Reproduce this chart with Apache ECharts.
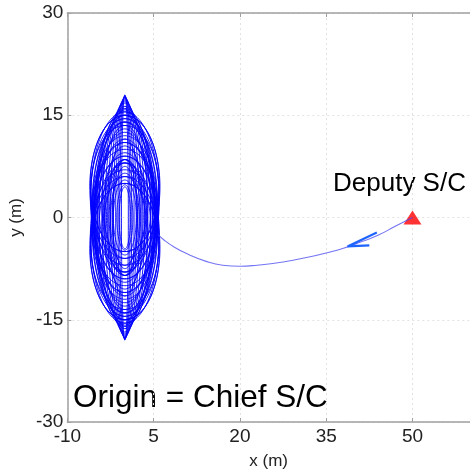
<!DOCTYPE html>
<html>
<head>
<meta charset="utf-8">
<script src="https://cdn.jsdelivr.net/npm/echarts@6/dist/echarts.min.js"></script>
<style>
  html, body { margin: 0; padding: 0; background: #fff; }
  #chart { width: 470px; height: 475px; }
</style>
</head>
<body>
<div id="chart"></div>
<script>
// axis ticks
var xTicks = [-10, 5, 20, 35, 50];
var yTicks = [-30, -15, 0, 15, 30];

// relative orbit loops around the chief (m): half-width in x, half-height in y, centre in y
var loopA = [6.1, 6.1, 6.0, 6.0, 5.9, 5.9, 5.8, 5.8, 5.6, 5.6, 5.4, 5.0, 5.2, 5.2,
             6.0, 6.0, 5.9, 5.9, 5.7, 5.7, 5.5, 5.5, 5.3, 5.3, 4.8, 4.8,
             4.5, 4.5, 3.8, 3.8, 3.2, 2.5, 2.0, 1.4, 1.0,
             4.0, 4.0, 3.5, 3.5, 2.8, 2.8, 2.2, 2.2,
             4.5, 4.0, 3.5, 3.0, 2.5, 2.0, 1.6, 1.2, 0.9, 0.6];
var loopB = [10.5, 10.5, 11.75, 11.75, 9.25, 9.25, 11.5, 11.5, 8.5, 8.5, 15.5, 16.0, 13.25, 13.25,
             10.0, 10.0, 12.25, 12.25, 12.75, 12.75, 11.0, 11.0, 14.5, 14.5, 14.0, 14.0,
             9.75, 9.75, 7.75, 7.75, 8.0, 6.75, 5.5, 4.8, 4.55,
             11.0, 11.0, 9.5, 9.5, 10.0, 10.0, 8.0, 8.0,
             15.8, 16.3, 16.8, 17.1, 17.4, 17.6, 17.7, 17.8, 17.9, 18.0];
var loopC = [4.5, -4.5, 2.75, -2.75, 4.25, -4.25, 0.5, -0.5, 1.5, -1.5, 0, 0, 0.75, -0.75,
             5.0, -5.0, 3.25, -3.25, 1.75, -1.75, 3.0, -3.0, 0.5, -0.5, 1.0, -1.0,
             1.75, -1.75, 1.75, -1.75, 0, -0.25, 0, 0, -0.05,
             2.5, -2.5, 1.0, -1.0, 1.5, -1.5, 0.5, -0.5,
             0, 0, 0, 0, 0, 0, 0, 0, 0, 0];

// approach path of the deputy
var pathX = [50, 47, 44, 41, 38, 35, 32, 29, 26, 23, 20, 17, 14, 11, 8.5, 6.8, 5.8];
var pathY = [0, -1.3, -2.6, -3.6, -4.5, -5.2, -5.8, -6.3, -6.7, -7.0, -7.15, -7.0, -6.4, -5.4, -4.3, -3.3, -2.5];

// arrow head on the path
var arrowX = [43.8, 38.7, 42.5];
var arrowY = [-2.2, -4.25, -4.1];

var deputy = [50, 0];

var chart = echarts.init(document.getElementById('chart'));

var gridLine = { show: true, lineStyle: { color: '#e2e2e2', type: [2, 3], width: 1 } };
var axisLine = { show: true, onZero: false, lineStyle: { color: '#a0a0a0', width: 1.5 } };
var tickStyle = { show: true, inside: true, length: 4, lineStyle: { color: '#a0a0a0' } };
var labelFont = { fontFamily: 'Liberation Sans', fontSize: 19, color: '#222' };

var option = {
  animation: false,
  grid: { left: 66, top: 13, right: -4, bottom: 52 },
  xAxis: [{
    type: 'value', min: -10, max: 60, interval: 15,
    name: 'x (m)', nameLocation: 'middle', nameGap: 31,
    nameTextStyle: { fontFamily: 'Liberation Sans', fontSize: 17, color: '#222' },
    axisLine: axisLine, axisTick: tickStyle, splitLine: gridLine,
    axisLabel: Object.assign({ margin: 5, showMaxLabel: false }, labelFont)
  }, {
    type: 'value', min: -10, max: 60, interval: 15, position: 'top',
    axisLine: axisLine, axisTick: tickStyle, splitLine: { show: false },
    axisLabel: { show: false }
  }],
  yAxis: {
    type: 'value', min: -30, max: 30, interval: 15,
    name: 'y (m)', nameLocation: 'middle', nameGap: 31, nameRotate: 90,
    nameTextStyle: { fontFamily: 'Liberation Sans', fontSize: 17, color: '#222' },
    axisLine: axisLine, axisTick: tickStyle, splitLine: gridLine,
    axisLabel: Object.assign({ margin: 4 }, labelFont)
  },
  series: [{
    type: 'custom',
    data: loopA.map(function (a, i) { return [a, loopB[i], loopC[i]]; }),
    encode: { x: 0, y: 1 },
    silent: true,
    renderItem: function (params, api) {
      var a = api.value(0), b = api.value(1), c = api.value(2);
      var pts = [];
      for (var k = 0; k <= 120; k++) {
        var t = k / 120 * Math.PI * 2;
        pts.push(api.coord([a * Math.cos(t), c + b * Math.sin(t)]));
      }
      return { type: 'polyline', shape: { points: pts }, style: { stroke: '#0000ff', lineWidth: 0.9, fill: null } };
    }
  }, {
    type: 'line',
    data: pathX.map(function (x, i) { return [x, pathY[i]]; }),
    smooth: true, symbol: 'none',
    lineStyle: { color: 'rgba(70,70,240,0.75)', width: 1.1 }
  }, {
    type: 'line',
    data: arrowX.map(function (x, i) { return [x, arrowY[i]]; }),
    symbol: 'none',
    lineStyle: { color: '#1e64ff', width: 2.2 }
  }, {
    type: 'scatter',
    data: [deputy],
    symbol: 'triangle', symbolSize: [18, 14],
    itemStyle: { color: '#ff0000' }
  }],
  graphic: [{
    type: 'text', x: 333, y: 184,
    style: { text: 'Deputy S/C', fontFamily: 'Liberation Sans', fontSize: 26, fill: '#000', verticalAlign: 'middle' }
  }, {
    type: 'text', x: 73, y: 398,
    style: { text: 'Origin = Chief S/C', fontFamily: 'Liberation Sans', fontSize: 31.5, fill: '#000', verticalAlign: 'middle' }
  }]
};
chart.setOption(option);
</script>
</body>
</html>
